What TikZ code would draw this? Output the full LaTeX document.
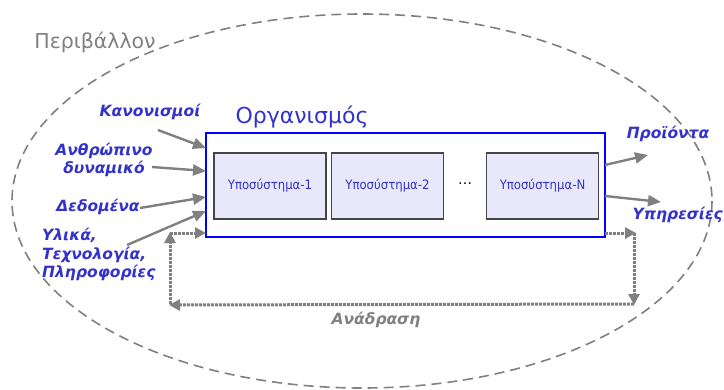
\documentclass[tikz,border=0pt]{standalone}
\usepackage{fontspec}
\setmainfont{DejaVu Sans}
\newfontfamily\subfont{DejaVu Sans Condensed}
\usetikzlibrary{arrows.meta}
\definecolor{txtblue}{RGB}{51,51,204}
\definecolor{frameblue}{RGB}{0,0,255}
\definecolor{linegray}{RGB}{128,128,128}
\definecolor{subfill}{RGB}{232,232,250}
\definecolor{subedge}{RGB}{70,70,70}
\tikzset{
  envline/.style={draw=linegray, line width=1.6pt, dash pattern=on 10pt off 6pt},
  envlabel/.style={text=linegray, font=\fontsize{20.5}{24}\selectfont, inner sep=0pt},
  orglabel/.style={text=txtblue, font=\fontsize{22}{26}\selectfont, inner sep=0pt},
  orgbox/.style={draw=frameblue, line width=2pt, minimum width=399pt, minimum height=104pt, inner sep=0pt},
  subbox/.style={draw=subedge, fill=subfill, line width=1.2pt, minimum width=112pt, minimum height=66pt, inner sep=0pt,
    text=txtblue, font=\subfont\fontsize{13}{15}\selectfont},
  inlabel/.style={text=txtblue, font=\bfseries\itshape\fontsize{15.5}{18.5}\selectfont, inner sep=0pt},
  fblabel/.style={text=linegray, font=\bfseries\itshape\fontsize{15.5}{18.5}\selectfont, inner sep=0pt},
  flowarrow/.style={draw=linegray, line width=2.4pt, -{Triangle[length=13pt,width=11pt]}},
  fbarrow/.style={draw=linegray, line width=3pt, dash pattern=on 3pt off 1pt, -{Triangle[length=11pt,width=11pt]}},
}
\begin{document}
\begin{tikzpicture}[x=1pt,y=-1pt]
\useasboundingbox (0,0) rectangle (724,389);

% environment boundary
\draw[envline] (362,201) ellipse [x radius=350, y radius=187];
\node[envlabel] (env) at (95,42) {Περιβάλλον};

% organisation and its subsystems
\node[orglabel] (orgt) at (302,117) {Οργανισμός};
\node[orgbox] (org) at (405.5,185) {};
\node[subbox] (s1) at (270,186) {Υποσύστημα-1};
\node[subbox] (s2) at (387.5,186) {Υποσύστημα-2};
\node[subbox] (sN) at (542.5,186) {Υποσύστημα-Ν};
\node[text=black, font=\fontsize{14}{16}\selectfont] (dots) at (465,184) {…};

% inputs
\node[inlabel] (kan) at (150,112) {Κανονισμοί};
\node[inlabel, align=center] (anth) at (104,160) {Ανθρώπινο\\δυναμικό};
\node[inlabel] (ded) at (98,207) {Δεδομένα};
\node[inlabel, align=left, anchor=north west] (yl) at (42,228) {Υλικά,\\Τεχνολογία,\\Πληροφορίες};

\coordinate (kanS) at (158,130);
\coordinate (kanE) at (206,148);
\coordinate (anthS) at (152,167);
\coordinate (anthE) at (206,171);
\coordinate (dedS) at (140,208);
\coordinate (dedE) at (206,197);
\coordinate (ylS) at (127,245);
\coordinate (ylE) at (206,211);
\draw[flowarrow] (kanS) -- (kanE);
\draw[flowarrow] (anthS) -- (anthE);
\draw[flowarrow] (dedS) -- (dedE);
\draw[flowarrow] (ylS) -- (ylE);

% outputs
\node[inlabel] (prod) at (668,134) {Προϊόντα};
\node[inlabel, anchor=east] (serv) at (723,215) {Υπηρεσίες};
\coordinate (prodS) at (605,165);
\coordinate (prodE) at (648,155);
\coordinate (servS) at (605,196);
\coordinate (servE) at (661,202);
\draw[flowarrow] (prodS) -- (prodE);
\draw[flowarrow] (servS) -- (servE);

% feedback loop
\coordinate (fbA) at (605,233);
\coordinate (fbB) at (636,233);
\coordinate (fbC) at (634,305);
\coordinate (fbD) at (169,305);
\coordinate (fbE) at (170,232);
\coordinate (fbF) at (206,233);
\coordinate (fbBc) at (634,233);
\coordinate (fbCc) at (634,304);
\coordinate (fbDc) at (170,304);
\coordinate (fbEc) at (170,233);
\draw[fbarrow] (fbA) -- (fbB);
\draw[fbarrow] (fbBc) -- (fbC);
\draw[fbarrow] (fbCc) -- (fbD);
\draw[fbarrow] (fbDc) -- (fbE);
\draw[fbarrow] (fbEc) -- (fbF);
\node[fblabel] (fb) at (376,320) {Ανάδραση};
\end{tikzpicture}
\end{document}
